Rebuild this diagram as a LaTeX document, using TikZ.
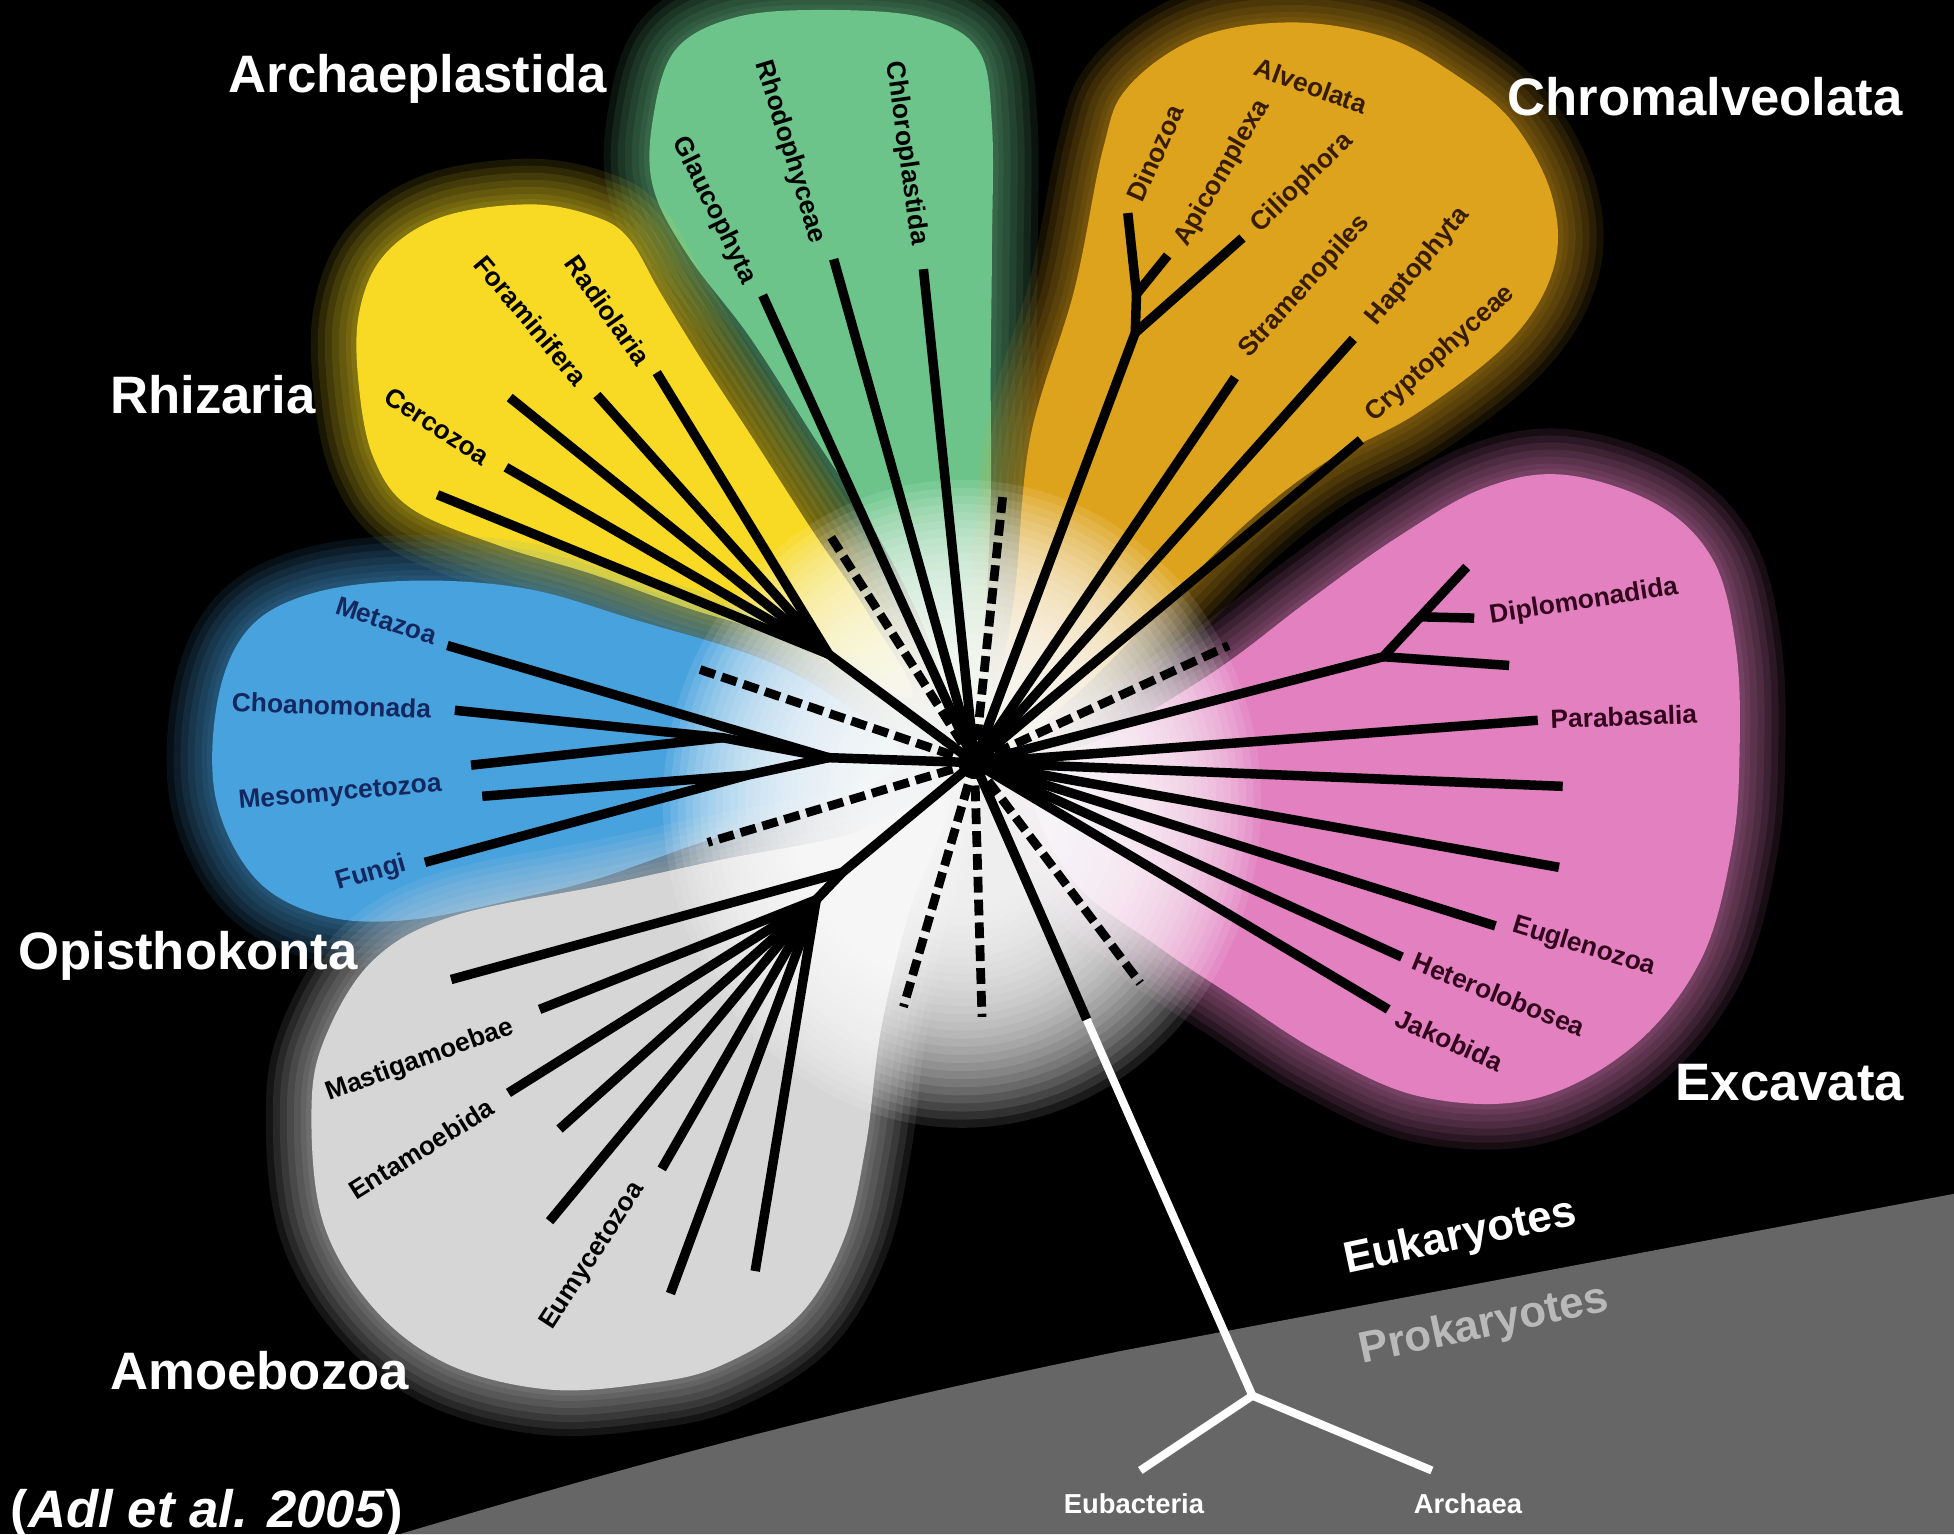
\documentclass[tikz,border=0pt]{standalone}
\usepackage{fontspec}
\setmainfont{Liberation Sans}

\definecolor{plastid}{RGB}{108,196,138}
\definecolor{rhiz}{RGB}{248,218,36}
\definecolor{opis}{RGB}{72,162,222}
\definecolor{amoeb}{RGB}{214,214,214}
\definecolor{chrom}{RGB}{221,163,28}
\definecolor{excav}{RGB}{226,128,192}
\definecolor{band}{RGB}{102,102,102}
\definecolor{navy}{RGB}{20,40,95}
\definecolor{umber}{RGB}{55,28,0}
\definecolor{plum}{RGB}{50,5,28}
\definecolor{proktext}{RGB}{185,185,185}

% soft-edged coloured lobe
\newcommand{\petal}[2]{%
  \foreach \lw in {26,22,18,14,10,6,3}
    \draw[#1, line width=\lw pt, opacity=0.1] plot[smooth cycle, tension=0.6] coordinates {#2};
  \fill[#1] plot[smooth cycle, tension=0.6] coordinates {#2};}

\begin{document}
\begin{tikzpicture}[
  x=0.012462cm, y=-0.012462cm,
  branch/.style={line width=2.7pt, line join=round},
  unsure/.style={line width=2.5pt, dash pattern=on 4.5pt off 2pt},
  prok/.style={white, line width=2.3pt, line join=round},
  title/.style={text=white, font=\fontsize{15}{18}\selectfont\bfseries, inner sep=0pt},
  taxon/.style={font=\fontsize{7.5}{9}\selectfont\bfseries, inner sep=0pt},
  small/.style={font=\fontsize{7.8}{9}\selectfont\bfseries, inner sep=0pt, text=white}
]
  \useasboundingbox (0,0) rectangle (1568,1231);
  \fill[black] (0,0) rectangle (1568,1231);

  % prokaryote band
  \fill[band] (321,1231) .. controls (560,1160) and (700,1125) .. (900,1084) -- (1568,958) -- (1568,1231) -- cycle;

  % lobes
  \petal{plastid}{(780,600) (740,500) (702,426) (652,349) (602,271) (552,205) (524,150) (524,95) (542,40) (590,14) (660,8) (740,14) (785,40) (796,100) (796,200) (795,300) (795,400) (790,500)}
  \petal{rhiz}{(730,560) (627,512) (552,488) (476,461) (401,438) (330,408) (300,368) (288,310) (288,252) (308,205) (355,174) (426,164) (478,174) (505,192) (530,235) (565,292) (603,350) (652,426) (695,490)}
  \petal{opis}{(720,600) (628,536) (505,496) (420,472) (330,466) (251,476) (200,504) (175,560) (173,640) (205,705) (260,735) (330,738) (420,720) (480,705) (551,680) (640,650) (700,630)}
  \petal{amoeb}{(760,640) (680,670) (578,690) (486,710) (364,735) (300,770) (262,830) (250,888) (259,980) (300,1050) (360,1095) (440,1115) (520,1110) (578,1096) (640,1057) (677,995) (695,918) (707,826) (730,730)}
  \petal{chrom}{(800,600) (815,470) (827,350) (862,233) (885,120) (905,70) (962,30) (1037,18) (1112,30) (1165,58) (1213,97) (1245,156) (1247,214) (1213,272) (1138,331) (1062,372) (1000,420) (930,490) (860,560)}
  \petal{excav}{(830,625) (900,585) (980,535) (1050,482) (1120,432) (1190,392) (1255,381) (1330,405) (1375,450) (1393,520) (1396,600) (1390,680) (1365,770) (1310,840) (1230,882) (1140,880) (1060,845) (990,800) (930,760) (860,705)}

  % white glow round the hub
  \foreach \k in {0,...,27}
    \fill[white, opacity=0.1] (772,645) ellipse [x radius={240-6*\k}, y radius={260-6.5*\k}];

  % tree coordinates
  \coordinate (hub) at (782,612);
  \coordinate (glauT) at (612,237);
  \coordinate (rhodT) at (669,208);
  \coordinate (chloT) at (741,216);
  \coordinate (rhizN) at (665,525);
  \coordinate (rh1) at (351,397);
  \coordinate (cercT) at (406,375);
  \coordinate (rh3) at (409,319);
  \coordinate (foraT) at (479,317);
  \coordinate (radiT) at (527,299);
  \coordinate (opisN) at (665,608);
  \coordinate (opisA) at (580,592);
  \coordinate (opisB) at (600,622);
  \coordinate (metaT) at (359,518);
  \coordinate (choaT) at (365,570);
  \coordinate (op3) at (378,614);
  \coordinate (mesoT) at (387,639);
  \coordinate (fungT) at (341,692);
  \coordinate (amoeN) at (676,700);
  \coordinate (amoeA) at (655,722);
  \coordinate (am1) at (362,786);
  \coordinate (mastT) at (433,810);
  \coordinate (entaT) at (408,877);
  \coordinate (am4) at (449,906);
  \coordinate (am5) at (441,980);
  \coordinate (eumyT) at (531,938);
  \coordinate (am7) at (538,1038);
  \coordinate (am8) at (606,1020);
  \coordinate (chroN) at (911,267);
  \coordinate (alveN) at (912,236);
  \coordinate (dinoT) at (905,171);
  \coordinate (apicT) at (937,205);
  \coordinate (ciliT) at (997,191);
  \coordinate (stramT) at (991,303);
  \coordinate (haptT) at (1086,272);
  \coordinate (cryptT) at (1092,353);
  \coordinate (diplN) at (1110,527);
  \coordinate (diplM) at (1140,495);
  \coordinate (dipl1) at (1177,455);
  \coordinate (dipl2) at (1183,496);
  \coordinate (dipl3) at (1211,534);
  \coordinate (paraT) at (1234,578);
  \coordinate (ex5) at (1254,631);
  \coordinate (ex6) at (1251,696);
  \coordinate (eugT) at (1200,743);
  \coordinate (hetT) at (1125,768);
  \coordinate (jakT) at (1114,810);
  \coordinate (wht) at (872,818);
  \coordinate (root) at (1005,1120);
  \coordinate (eubT) at (915,1180);
  \coordinate (arcT) at (1149,1180);

  % prokaryote stem
  \draw[prok] (wht) -- (root) -- (eubT);
  \draw[prok] (root) -- (arcT);
  \draw[branch] (hub) -- (wht);

  % uncertain lineages
  \foreach \u in {(805,395),(665,428),(558,536),(568,676),(725,808),(788,816),(915,789),(986,518)}
    \draw[unsure] (hub) -- \u;

  % Archaeplastida
  \draw[branch] (glauT) -- (hub);
  \draw[branch] (rhodT) -- (hub);
  \draw[branch] (chloT) -- (hub);
  % Rhizaria
  \foreach \t in {rh1,cercT,rh3,foraT,radiT}
    \draw[branch] (\t) -- (rhizN);
  \draw[branch] (rhizN) -- (hub);
  % Opisthokonta
  \draw[branch] (choaT) -- (opisA) -- (opisN);
  \draw[branch] (op3) -- (opisA);
  \draw[branch] (mesoT) -- (opisB) -- (opisN);
  \draw[branch] (fungT) -- (opisB);
  \draw[branch] (metaT) -- (opisN) -- (hub);
  % Amoebozoa
  \foreach \t in {mastT,entaT,am4,am5,eumyT,am7,am8}
    \draw[branch] (\t) -- (amoeA);
  \draw[branch] (amoeA) -- (amoeN);
  \draw[branch] (am1) -- (amoeN) -- (hub);
  % Chromalveolata
  \draw[branch] (dinoT) -- (alveN) -- (chroN) -- (hub);
  \draw[branch] (apicT) -- (alveN);
  \draw[branch] (ciliT) -- (chroN);
  \draw[branch] (stramT) -- (hub);
  \draw[branch] (haptT) -- (hub);
  \draw[branch] (cryptT) -- (hub);
  % Excavata
  \draw[branch] (dipl1) -- (diplN) -- (hub);
  \draw[branch] (dipl2) -- (diplM);
  \draw[branch] (dipl3) -- (diplN);
  \foreach \t in {paraT,ex5,ex6,eugT,hetT,jakT}
    \draw[branch] (\t) -- (hub);

  \fill[black] (hub) circle (13);

  % supergroup titles
  \node[title, anchor=base west] (tArch) at (183,74) {Archaeplastida};
  \node[title, anchor=base west] (tRhiz) at (88,332) {Rhizaria};
  \node[title, anchor=base west] (tOpis) at (14,778) {Opisthokonta};
  \node[title, anchor=base west] (tAmoe) at (88,1115) {Amoebozoa};
  \node[title, anchor=base west] (tChro) at (1209,93) {Chromalveolata};
  \node[title, anchor=base west] (tExca) at (1344,883) {Excavata};
  \node[title, anchor=base west] (tRef) at (8,1226) {(\textit{Adl et al. 2005})};

  % taxa
  \node[taxon, rotate=-64] (lGlau) at (573,169) {Glaucophyta};
  \node[taxon, rotate=-73] (lRhod) at (634,122) {Rhodophyceae};
  \node[taxon, rotate=-82] (lChlo) at (727,123) {Chloroplastida};
  \node[taxon, rotate=-33] (lCerc) at (351,342) {Cercozoa};
  \node[taxon, rotate=-50] (lFora) at (426,257) {Foraminifera};
  \node[taxon, rotate=-55] (lRadi) at (488,249) {Radiolaria};
  \node[taxon, text=navy, rotate=-18] (lMeta) at (310,498) {Metazoa};
  \node[taxon, text=navy, rotate=-2] (lChoa) at (266,566) {Choanomonada};
  \node[taxon, text=navy, rotate=5] (lMeso) at (273,637) {Mesomycetozoa};
  \node[taxon, text=navy, rotate=16] (lFung) at (298,701) {Fungi};
  \node[taxon, rotate=20] (lMast) at (337,851) {Mastigamoebae};
  \node[taxon, rotate=32] (lEnta) at (338,922) {Entamoebida};
  \node[taxon, rotate=57] (lEumy) at (476,1008) {Eumycetozoa};
  \node[taxon, text=umber, rotate=-20] (lAlve) at (1052,69) {Alveolata};
  \node[taxon, text=umber, rotate=66] (lDino) at (927,123) {Dinozoa};
  \node[taxon, text=umber, rotate=60] (lApic) at (981,139) {Apicomplexa};
  \node[taxon, text=umber, rotate=44] (lCili) at (1045,147) {Ciliophora};
  \node[taxon, text=umber, rotate=48] (lStra) at (1047,230) {Stramenopiles};
  \node[taxon, text=umber, rotate=50] (lHapt) at (1138,214) {Haptophyta};
  \node[taxon, text=umber, rotate=42] (lCryp) at (1156,284) {Cryptophyceae};
  \node[taxon, text=plum, rotate=9] (lDipl) at (1271,483) {Diplomonadida};
  \node[taxon, text=plum, rotate=2] (lPara) at (1303,575) {Parabasalia};
  \node[taxon, text=plum, rotate=-17] (lEugl) at (1271,760) {Euglenozoa};
  \node[taxon, text=plum, rotate=-22] (lHete) at (1203,798) {Heterolobosea};
  \node[taxon, text=plum, rotate=-24] (lJako) at (1163,835) {Jakobida};

  % eukaryote / prokaryote split
  \node[font=\fontsize{12.5}{15}\selectfont\bfseries, text=white, rotate=12] (lEuk) at (1172,993) {Eukaryotes};
  \node[font=\fontsize{12.5}{15}\selectfont\bfseries, text=proktext, rotate=12] (lPro) at (1191,1064) {Prokaryotes};
  \node[small] (lEub) at (910,1207) {Eubacteria};
  \node[small] (lArc) at (1178,1207) {Archaea};
\end{tikzpicture}
\end{document}
